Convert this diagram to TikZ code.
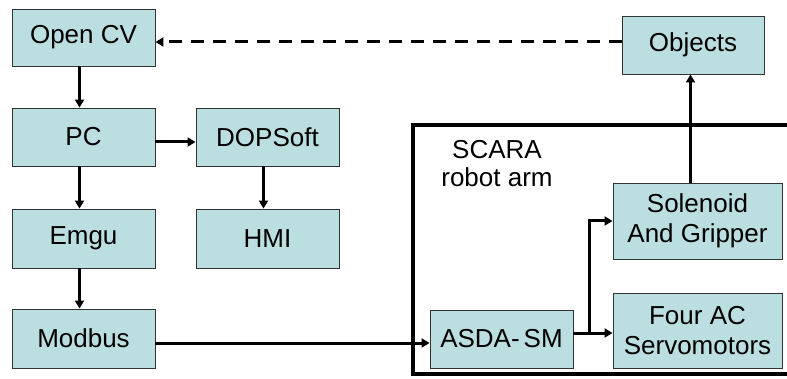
\documentclass[tikz,border=0pt]{standalone}
\usepackage{fontspec}
\setmainfont{Liberation Sans}
\usetikzlibrary{arrows.meta}
\definecolor{boxfill}{RGB}{187,222,224}
\begin{document}
\begin{tikzpicture}[x=1pt,y=-1pt,
  box/.style={draw=black!80, line width=0.9pt, fill=boxfill, font=\fontsize{26}{30}\selectfont, align=center, inner sep=0pt},
  conn/.style={line width=3pt, -{Triangle[length=8pt,width=9pt]}},
  frame/.style={line width=4pt}]
\useasboundingbox (0,0) rectangle (787,379);
\node[box, minimum width=143pt, minimum height=57pt] (opencv) at (83.5,37.5) {Open CV};
\node[box, minimum width=143pt, minimum height=58pt] (pc) at (83.5,137) {PC};
\node[box, minimum width=143pt, minimum height=58pt] (dop) at (267.5,137) {DOPSoft};
\node[box, minimum width=143pt, minimum height=59pt] (emgu) at (83.5,238.5) {Emgu};
\node[box, minimum width=143pt, minimum height=59pt] (hmi) at (267.5,238.5) {HMI};
\node[box, minimum width=143pt, minimum height=59pt] (modbus) at (83.5,338.5) {Modbus};
\node[box, minimum width=142pt, minimum height=58pt] (objects) at (693,45) {Objects};
\node[box, minimum width=169pt, minimum height=76pt] (sol) at (697.5,221) {Solenoid\\And Gripper};
\node[box, minimum width=169pt, minimum height=75pt] (four) at (697.5,330.5) {Four AC\\Servomotors};
\node[box, minimum width=143pt, minimum height=58pt] (asda) at (501.5,339) {ASDA-\hspace{4pt}SM};
\node[font=\fontsize{26}{28}\selectfont, align=center] (scara) at (497,164) {SCARA\\robot arm};
% frame
\draw[frame] (790,125) -| (413,374) -- (790,374);
% connectors
\draw[conn] ([xshift=-4pt]opencv.south) -- ([xshift=-4pt]pc.north);
\draw[conn] ([xshift=-4pt]pc.south) -- ([xshift=-4pt]emgu.north);
\draw[conn] ([xshift=-4pt]emgu.south) -- ([xshift=-4pt]modbus.north);
\draw[conn] ([xshift=-4pt]dop.south) -- ([xshift=-4pt]hmi.north);
\draw[conn] ([yshift=-5pt]pc.east) -- ([yshift=-5pt]pc.east -| dop.west);
\draw[conn] ([yshift=-4.5pt]modbus.east) -- ([yshift=-4.5pt]modbus.east -| asda.west);
\draw[conn] ([yshift=6pt]asda.east) -- ([yshift=6pt]asda.east -| four.west);
\coordinate (br) at ([yshift=6pt,xshift=16pt]asda.east);
\draw[conn] (br) |- (sol.west);
\draw[conn] ([xshift=-7pt]sol.north) -- ([xshift=-7pt]sol.north |- objects.south);
\draw[conn, dash pattern=on 13pt off 9pt] ([yshift=3pt]objects.west) -- ([yshift=3pt]objects.west -| opencv.east);
\end{tikzpicture}
\end{document}
